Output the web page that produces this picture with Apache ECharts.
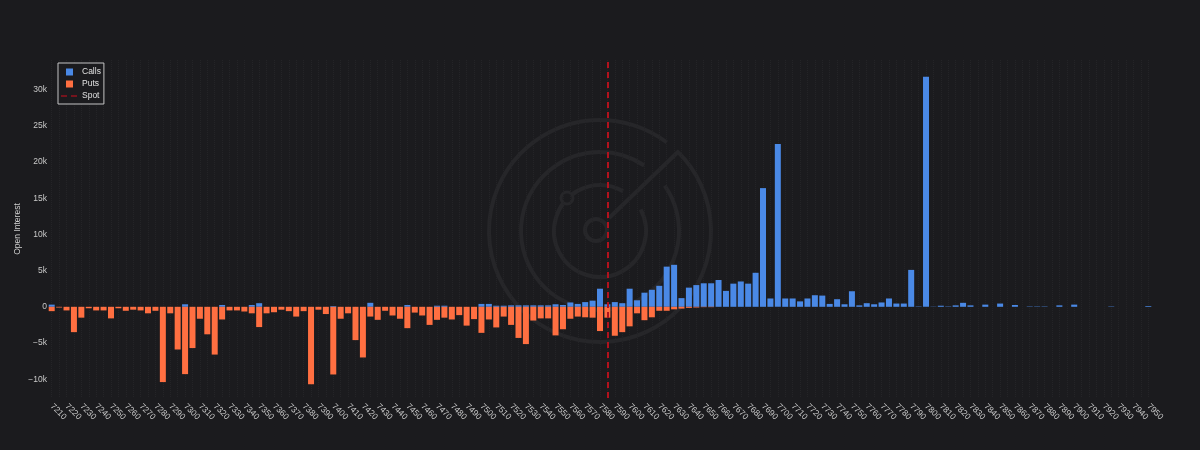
<!DOCTYPE html>
<html>
<head>
<meta charset="utf-8">
<script src="https://cdn.jsdelivr.net/npm/echarts@6/dist/echarts.min.js"></script>
<style>
  html, body { margin: 0; padding: 0; background: #1b1b1e; }
  #chart { width: 1200px; height: 450px; }
</style>
</head>
<body>
<div id="chart"></div>
<script>
// strikes, every 5 points
const strikes = [
  7210, 7215, 7220, 7225, 7230, 7235, 7240, 7245, 7250, 7255,
  7260, 7265, 7270, 7275, 7280, 7285, 7290, 7295, 7300, 7305,
  7310, 7315, 7320, 7325, 7330, 7335, 7340, 7345, 7350, 7355,
  7360, 7365, 7370, 7375, 7380, 7385, 7390, 7395, 7400, 7405,
  7410, 7415, 7420, 7425, 7430, 7435, 7440, 7445, 7450, 7455,
  7460, 7465, 7470, 7475, 7480, 7485, 7490, 7495, 7500, 7505,
  7510, 7515, 7520, 7525, 7530, 7535, 7540, 7545, 7550, 7555,
  7560, 7565, 7570, 7575, 7580, 7585, 7590, 7595, 7600, 7605,
  7610, 7615, 7620, 7625, 7630, 7635, 7640, 7645, 7650, 7655,
  7660, 7665, 7670, 7675, 7680, 7685, 7690, 7695, 7700, 7705,
  7710, 7715, 7720, 7725, 7730, 7735, 7740, 7745, 7750, 7755,
  7760, 7765, 7770, 7775, 7780, 7785, 7790, 7795, 7800, 7805,
  7810, 7815, 7820, 7825, 7830, 7835, 7840, 7845, 7850, 7855,
  7860, 7865, 7870, 7875, 7880, 7885, 7890, 7895, 7900, 7905,
  7910, 7915, 7920, 7925, 7930, 7935, 7940, 7945, 7950
];

const calls = [
  300, 0, 0, 0, 0, 0, 0, 0, 0, 0,
  0, 0, 0, 0, 0, 0, 0, 0, 350, 0,
  0, 0, 0, 250, 0, 0, 0, 250, 500, 0,
  0, 0, 0, 0, 0, 0, 0, 0, 100, 0,
  0, 0, 0, 550, 0, 0, 0, 0, 250, 0,
  0, 0, 150, 150, 0, 0, 0, 0, 400, 400,
  150, 150, 200, 200, 200, 200, 200, 200, 350, 250,
  600, 400, 650, 850, 2500, 350, 650, 500, 2500, 900,
  1950, 2350, 2900, 5550, 5800, 1200, 2650, 3000, 3250, 3250,
  3700, 2200, 3200, 3500, 3200, 4700, 16400, 1150, 22500, 1150,
  1150, 750, 1150, 1600, 1550, 400, 1050, 350, 2150, 200,
  500, 350, 600, 1150, 450, 450, 5100, 50, 31800, 30,
  150, 50, 200, 550, 200, 0, 300, 0, 450, 0,
  250, 0, 50, 50, 50, 0, 200, 0, 300, 0,
  0, 0, 0, 50, 0, 0, 0, 0, 100
];

const puts = [
  -600, -100, -500, -3500, -1500, -200, -500, -500, -1600, -200,
  -550, -400, -500, -900, -550, -10400, -900, -5900, -9300, -5700,
  -1650, -3800, -6600, -1750, -500, -500, -650, -900, -2800, -900,
  -750, -400, -600, -1350, -600, -10700, -400, -1000, -9350, -1650,
  -900, -4600, -7000, -1350, -1800, -550, -1200, -1650, -2950, -800,
  -1200, -2500, -1800, -1500, -1750, -1150, -2600, -1700, -3600, -1750,
  -2850, -1350, -2500, -4300, -5150, -1900, -1600, -1600, -3950, -3100,
  -1650, -1350, -1450, -1500, -3350, -1500, -4000, -3500, -2700, -900,
  -1850, -1450, -550, -550, -350, -250, -150, -100, -50, -50,
  0, 0, 0, 0, 0, 0, 0, 0, 0, 0,
  0, 0, 0, 0, 0, 0, 0, 0, 0, 0,
  0, 0, 0, 0, 0, 0, 0, 0, 0, 0,
  0, 0, 0, 0, 0, 0, 0, 0, 0, 0,
  0, 0, 0, 0, 0, 0, 0, 0, 0, 0,
  0, 0, 0, 0, 0, 0, 0, 0, 0
];

const yTicks = [-10000, -5000, 0, 5000, 10000, 15000, 20000, 25000, 30000];
const spot = '7585';

const bg = '#1b1b1e';
const wm = '#262629';
const font = 'Liberation Sans, Arial, sans-serif';
const rad = d => d * Math.PI / 180;

const chart = echarts.init(document.getElementById('chart'));
chart.setOption({
  backgroundColor: bg,
  animation: false,
  textStyle: { fontFamily: font },
  // faint radar watermark behind the bars
  graphic: [
    { type: 'arc', silent: true, z: 0, shape: { cx: 600, cy: 231, r: 111, startAngle: rad(-46), endAngle: rad(307), clockwise: true }, style: { stroke: wm, lineWidth: 4, fill: null } },
    { type: 'arc', silent: true, z: 0, shape: { cx: 600, cy: 231, r: 79, startAngle: rad(-35), endAngle: rad(304), clockwise: true }, style: { stroke: wm, lineWidth: 4, fill: null } },
    { type: 'arc', silent: true, z: 0, shape: { cx: 600, cy: 231, r: 46, startAngle: rad(-28), endAngle: rad(300), clockwise: true }, style: { stroke: wm, lineWidth: 4, fill: null } },
    { type: 'circle', silent: true, z: 0, shape: { cx: 596, cy: 230, r: 11 }, style: { stroke: wm, lineWidth: 4, fill: null } },
    { type: 'line', silent: true, z: 0, shape: { x1: 609, y1: 218, x2: 679, y2: 151 }, style: { stroke: wm, lineWidth: 4 } },
    { type: 'circle', silent: true, z: 0, shape: { cx: 567, cy: 198, r: 6 }, style: { stroke: wm, lineWidth: 3, fill: bg } }
  ],
  legend: {
    orient: 'vertical',
    left: 58,
    top: 63,
    padding: [4, 3, 3, 3],
    itemGap: 2,
    itemWidth: 16,
    itemHeight: 8,
    borderColor: '#c4c4c4',
    borderWidth: 1,
    backgroundColor: bg,
    textStyle: { color: '#e0e0e0', fontSize: 8.5, lineHeight: 10, fontFamily: font },
    data: [
      { name: 'Calls', icon: 'path://M0,0L0,0M16,8L16,8M5,0.5L12,0.5L12,7.5L5,7.5Z' },
      { name: 'Puts', icon: 'path://M0,0L0,0M16,8L16,8M5,0.5L12,0.5L12,7.5L5,7.5Z' },
      { name: 'Spot', icon: 'path://M0,0L0,0M16,8L16,8M0,3.2L6,3.2L6,4.8L0,4.8ZM10,3.2L16,3.2L16,4.8L10,4.8Z' }
    ]
  },
  grid: { left: 48, right: 48, top: 60, bottom: 52 },
  xAxis: {
    type: 'category',
    data: strikes.map(String),
    axisLine: { show: false },
    axisTick: { show: false },
    axisLabel: {
      interval: 1,
      rotate: -45,
      margin: 7,
      color: '#c8c8c8',
      fontSize: 8.5,
      fontFamily: font
    },
    splitLine: {
      show: true,
      interval: 0,
      alignWithLabel: true,
      lineStyle: { color: '#242427', type: 'dotted', width: 1 }
    }
  },
  yAxis: {
    type: 'value',
    min: -12600,
    max: 34100,
    name: 'Open Interest',
    nameLocation: 'middle',
    nameGap: 26,
    nameMoveOverlap: false,
    nameTextStyle: { color: '#d0d0d0', fontSize: 8.5, fontFamily: font },
    axisLine: { show: false },
    axisTick: { show: false },
    splitLine: { show: false },
    axisLabel: {
      customValues: yTicks,
      margin: 1,
      color: '#c8c8c8',
      fontSize: 8.5,
      fontFamily: font,
      formatter: v => v === 0 ? '0' : (v < 0 ? '\u2212' : '') + Math.abs(v / 1000) + 'k'
    }
  },
  series: [
    {
      name: 'Calls',
      type: 'bar',
      stack: 'oi',
      barCategoryGap: '19%',
      itemStyle: { color: '#4a89e6' },
      data: calls
    },
    {
      name: 'Puts',
      type: 'bar',
      stack: 'oi',
      barCategoryGap: '19%',
      itemStyle: { color: '#ff6f41' },
      data: puts
    },
    {
      name: 'Spot',
      type: 'scatter',
      itemStyle: { color: '#b3121d' },
      data: [],
      markLine: {
        silent: true,
        symbol: 'none',
        label: { show: false },
        lineStyle: { color: '#b3121d', type: [6, 4], width: 2 },
        data: [{ xAxis: spot }]
      }
    }
  ]
});
</script>
</body>
</html>
